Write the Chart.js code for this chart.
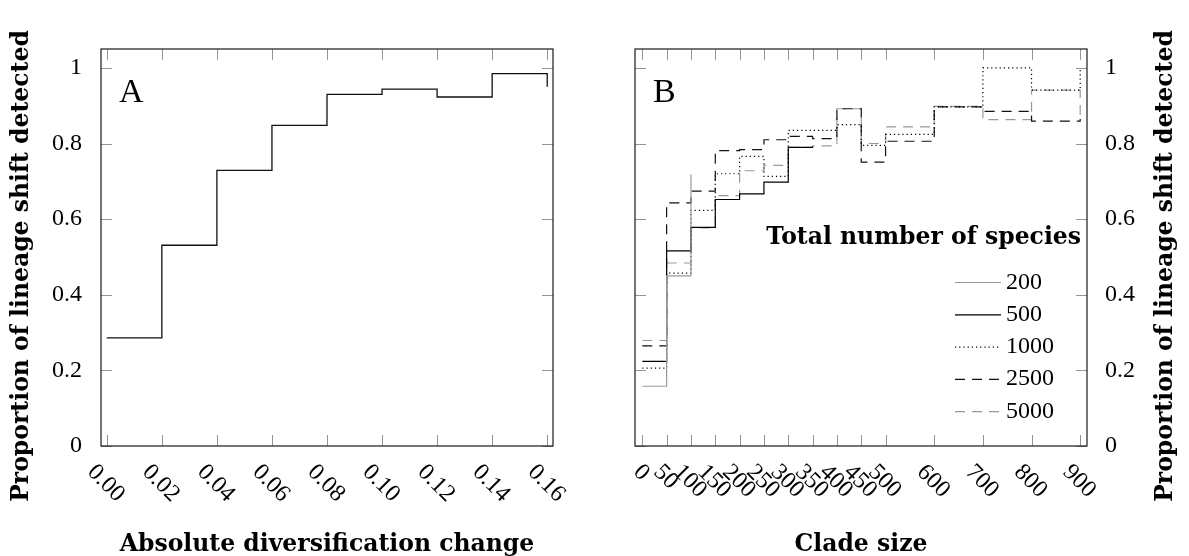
<!DOCTYPE html>
<html><head><meta charset="utf-8">
<script src="https://cdn.jsdelivr.net/npm/chart.js@4/dist/chart.umd.min.js"></script>
<style>
html,body{margin:0;padding:0;background:#fff;}
#wrap{position:relative;width:1189px;height:556px;background:#fff;}
canvas{position:absolute;left:0;top:0;}
</style></head><body>
<div id="wrap"><canvas id="cA" width="1189" height="556"></canvas><canvas id="cB" width="1189" height="556"></canvas></div>
<script>
// ---------- Panel A data ----------
const aX = [0, 0.02, 0.04, 0.06, 0.08, 0.10, 0.12, 0.14, 0.16];
const aY = [0.286, 0.531, 0.729, 0.848, 0.930, 0.944, 0.923, 0.985, 0.950];
const aTickValues = [0, 0.02, 0.04, 0.06, 0.08, 0.10, 0.12, 0.14, 0.16];
const aTickLabels = ["0.00", "0.02", "0.04", "0.06", "0.08", "0.10", "0.12", "0.14", "0.16"];

// ---------- Panel B data ----------
const bX = [0, 50, 100, 150, 200, 250, 300, 350, 400, 450, 500, 600, 700, 800, 900];
const b200  = [0.158, 0.450, 0.718];
const b500  = [0.224, 0.516, 0.578, 0.652, 0.667, 0.698, 0.790, 0.792];
const b1000 = [0.206, 0.457, 0.623, 0.720, 0.766, 0.713, 0.835, 0.835, 0.850, 0.795, 0.824, 0.897, 1.000, 0.941, 0.995];
const b2500 = [0.265, 0.643, 0.674, 0.781, 0.784, 0.810, 0.819, 0.813, 0.892, 0.751, 0.806, 0.897, 0.885, 0.859, 0.865];
const b5000 = [0.279, 0.484, 0.577, 0.662, 0.728, 0.742, 0.790, 0.794, 0.892, 0.800, 0.844, 0.898, 0.863, 0.941, 0.860];
const bTickValues = [0, 50, 100, 150, 200, 250, 300, 350, 400, 450, 500, 600, 700, 800, 900];
const bTickLabels = ["0", "50", "100", "150", "200", "250", "300", "350", "400", "450", "500", "600", "700", "800", "900"];
const speciesLabels = ["200", "500", "1000", "2500", "5000"];

// ---------- shared ----------
const yTickValues = [0, 0.2, 0.4, 0.6, 0.8, 1];
const yTickLabels = ["0", "0.2", "0.4", "0.6", "0.8", "1"];
const yTitle = "Proportion of lineage shift detected";
const xTitleA = "Absolute diversification change";
const xTitleB = "Clade size";
const legendTitle = "Total number of species";

const REG = '"Liberation Serif", "DejaVu Serif", serif';
const BOLD = 'bold 23.5px "DejaVu Serif", serif';

function pts(xs, ys) { return ys.map((y, i) => ({ x: xs[i], y: y })); }

const deco = {
  id: 'deco',
  afterDraw(chart, args, o) {
    const ctx = chart.ctx, a = chart.chartArea, xs = chart.scales.x, ys = chart.scales.y;
    ctx.save();
    // inward ticks on all four sides
    ctx.strokeStyle = 'rgba(0,0,0,0.42)';
    ctx.lineWidth = 1;
    const TL = 11;
    ctx.beginPath();
    xs.ticks.forEach(t => {
      const px = Math.round(xs.getPixelForValue(t.value)) + 0.5;
      ctx.moveTo(px, a.bottom); ctx.lineTo(px, a.bottom - TL);
      ctx.moveTo(px, a.top); ctx.lineTo(px, a.top + TL);
    });
    ys.ticks.forEach(t => {
      const py = Math.round(ys.getPixelForValue(t.value)) + 0.5;
      ctx.moveTo(a.left, py); ctx.lineTo(a.left + TL, py);
      ctx.moveTo(a.right, py); ctx.lineTo(a.right - TL, py);
    });
    ctx.stroke();
    // frame
    ctx.strokeStyle = '#1a1a1a';
    ctx.lineWidth = 1.2;
    ctx.strokeRect(a.left, a.top, a.right - a.left, a.bottom - a.top);

    // rotated x tick labels
    ctx.fillStyle = '#000';
    ctx.font = '24px ' + REG;
    ctx.textAlign = 'center';
    ctx.textBaseline = 'middle';
    xs.ticks.forEach((t, i) => {
      const lbl = o.xLabels[i];
      const L = ctx.measureText(lbl).width;
      const cy = a.bottom + 17 + (L + 16) * 0.7071 / 2;
      ctx.save();
      ctx.translate(xs.getPixelForValue(t.value) - 1, cy);
      ctx.rotate(Math.PI / 4);
      ctx.fillText(lbl, 0, 0);
      ctx.restore();
    });

    // panel letter
    ctx.font = '34px ' + REG;
    ctx.textAlign = 'left';
    ctx.textBaseline = 'alphabetic';
    ctx.fillText(o.letter, a.left + 18, a.top + 53);

    // axis titles
    ctx.font = BOLD;
    ctx.textAlign = 'center';
    ctx.textBaseline = 'alphabetic';
    ctx.fillText(o.xTitle, (a.left + a.right) / 2, 551);
    ctx.save();
    ctx.translate(o.yTitleX, 266);
    ctx.rotate(-Math.PI / 2);
    ctx.textBaseline = 'middle';
    ctx.fillText(yTitle, 0, 0);
    ctx.restore();

    // legend
    if (o.legend) {
      ctx.font = BOLD;
      ctx.textAlign = 'right';
      ctx.textBaseline = 'alphabetic';
      ctx.fillText(legendTitle, a.right - 6, 244);
      ctx.textAlign = 'left';
      chart.data.datasets.forEach((ds, i) => {
        const ly = 282.5 + i * 32.3;
        ctx.save();
        ctx.strokeStyle = ds.borderColor;
        ctx.lineWidth = ds.borderWidth;
        ctx.setLineDash(ds.borderDash || []);
        ctx.beginPath();
        ctx.moveTo(955, ly); ctx.lineTo(1001, ly);
        ctx.stroke();
        ctx.restore();
        ctx.font = '24px ' + REG;
        ctx.fillStyle = '#000';
        ctx.fillText(ds.label, 1006, ly + 6);
      });
    }
    ctx.restore();
  }
};

function yScale(position, width, pad) {
  return {
    type: 'linear', position: position, min: 0, max: 1.05,
    grid: { display: false }, border: { display: false },
    afterBuildTicks: s => { s.ticks = yTickValues.map(v => ({ value: v })); },
    afterFit: s => { s.width = width; },
    ticks: {
      color: '#000', padding: pad,
      font: { family: '"Liberation Serif", "DejaVu Serif", serif', size: 24 },
      callback: (v, i) => yTickLabels[i]
    }
  };
}

function xScale(min, max, tickValues) {
  return {
    type: 'linear', min: min, max: max,
    grid: { display: false }, border: { display: false },
    afterBuildTicks: s => { s.ticks = tickValues.map(v => ({ value: v })); },
    afterFit: s => { s.height = 110; },
    ticks: { display: false }
  };
}

const common = {
  responsive: false, animation: false, devicePixelRatio: 1,
  events: [],
};

new Chart(document.getElementById('cA'), {
  type: 'line',
  data: {
    datasets: [{
      label: 'A', data: pts(aX, aY), stepped: 'before',
      borderColor: '#111', borderWidth: 1.3, pointRadius: 0, fill: false
    }]
  },
  options: Object.assign({}, common, {
    layout: { padding: { left: 0, top: 49, right: 636, bottom: 0 } },
    scales: { x: xScale(-0.0021, 0.1621, aTickValues), y: yScale('left', 101, 11) },
    plugins: {
      legend: { display: false }, tooltip: { enabled: false },
      deco: { letter: 'A', xLabels: aTickLabels, xTitle: xTitleA, yTitleX: 22, legend: false }
    }
  }),
  plugins: [deco]
});

const bSeries = [b200, b500, b1000, b2500, b5000];
const bStyles = [
  { borderColor: '#9a9a9a', borderDash: [] },
  { borderColor: '#000', borderDash: [] },
  { borderColor: '#000', borderDash: [1.2, 3] },
  { borderColor: '#111', borderDash: [10, 7] },
  { borderColor: '#999', borderDash: [10, 7] }
];

new Chart(document.getElementById('cB'), {
  type: 'line',
  data: {
    datasets: bSeries.map((s, i) => Object.assign({
      label: speciesLabels[i], data: pts(bX, s), stepped: 'before',
      borderWidth: 1.2, pointRadius: 0, fill: false
    }, bStyles[i]))
  },
  options: Object.assign({}, common, {
    layout: { padding: { left: 635, top: 49, right: 0, bottom: 0 } },
    scales: { x: xScale(-15, 914, bTickValues), y: yScale('right', 102, 10) },
    plugins: {
      legend: { display: false }, tooltip: { enabled: false },
      deco: { letter: 'B', xLabels: bTickLabels, xTitle: xTitleB, yTitleX: 1166, legend: true }
    }
  }),
  plugins: [deco]
});
</script>
</body></html>
